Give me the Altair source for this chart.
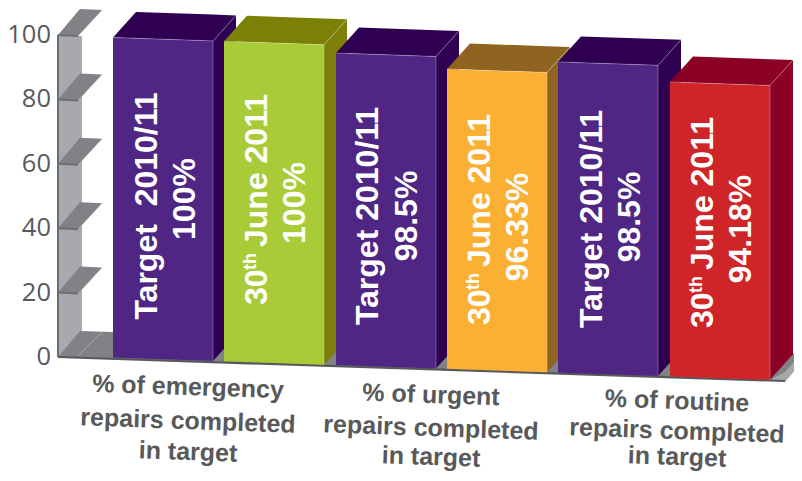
import altair as alt
import pandas as pd

# Heights; the labels carry the printed figures.
bar_values = [100, 100, 97.5, 93.7, 97.1, 92]
bar_left = [113, 224, 336, 447, 558, 670]
front_colors = ["#4F2683", "#A9CB37", "#4F2683", "#FBB034", "#4F2683", "#CF2528"]
dark_colors = ["#2F0051", "#7D8006", "#2F0051", "#8F6420", "#2F0051", "#8C0026"]
tick_values = [0, 20, 40, 60, 80, 100]
line1_text = ["Target\u00a0\u00a02010/11", None, "Target 2010/11", None, "Target 2010/11", None]
line2_text = ["100%", "100%", "98.5%", "96.33%", "98.5%", "94.18%"]
line1_x = [157, 267, 378, 490, 602, 713]
line2_x = [195, 305, 417, 528, 640, 751]
line1_y = [206, 0, 216, 0, 219, 0]
line2_y = [199, 203, 216, 227, 217, 229]
date_base_y = [0, 305, 0, 325, 0, 328]
cat_lines = [
    ["% of emergency", "repairs completed", "in target"],
    ["% of urgent", "repairs completed", "in target"],
    ["% of routine", "repairs completed", "in target"],
]
cat_x = [188, 431, 677]
cat_y = [[387, 421, 452], [395, 428, 457], [401, 431, 457]]

BAR_W, DX, DY, PX = 100, 23, -25.5, 3.2


def ybase(x):
    return 357.5 + 0.034 * (x - 113)


def axis_y(v):
    return 357 - 3.22 * v


rows = []
pid = [0]


def poly(points, color):
    """Turn a convex outline into x / y / y2 rows for an area mark."""
    xs = sorted({p[0] for p in points})
    n = len(points)
    for x in xs:
        ys = []
        for i in range(n):
            (x0, y0), (x1, y1) = points[i], points[(i + 1) % n]
            if min(x0, x1) <= x <= max(x0, x1):
                if x0 == x1:
                    ys += [y0, y1]
                else:
                    ys.append(y0 + (y1 - y0) * (x - x0) / (x1 - x0))
        rows.append(dict(p=pid[0], x=x, y=min(ys), y2=max(ys), c=color))
    pid[0] += 1


# wall, floor, lip
poly([(59, 36), (82, 36), (82, 331), (59, 357)], "#A7A9AC")
poly([(58, 357), (80, 331), (802, 354), (785, 381)], "#808285")
poly([(771, 379.5), (785, 372), (802, 353), (802, 362), (785, 382)], "#A7A9AC")
# shelves
for t in tick_values[1:]:
    y = axis_y(t)
    poly([(58, y), (78, y + 1), (102, y - 25), (80, y - 26)], "#808285")
    poly([(58, y - 1), (78, y), (78, y + 2), (58, y + 1)], "#6D6E71")

lines = []


def add_line(pts, color, width, key=[0]):
    for x, y in pts:
        lines.append(dict(l=key[0], x=x, y=y, c=color, w=width))
    key[0] += 1


add_line([(58, axis_y(100)), (58, axis_y(0))], "#6D6E71", 2)
add_line([(58, 357), (785, 381)], "#58595B", 2.2)
add_line([(78, 356), (102, 332)], "#A7A9AC", 0.8)
for t in tick_values[1:]:
    y = axis_y(t)
    add_line([(78, y + 1), (102, y - 25)], "#A7A9AC", 0.6)

base_rows = list(rows)
rows.clear()

hl = []
for i, (v, xl) in enumerate(zip(bar_values, bar_left)):
    xr = xl + BAR_W
    yl, yr = ybase(xl) - v * PX, ybase(xr) - v * PX
    bl, br = ybase(xl), ybase(xr)
    poly([(xl, yl), (xr, yr), (xr + DX, yr + DY), (xl + DX, yl + DY)], dark_colors[i])
    poly([(xr, yr), (xr + DX, yr + DY), (xr + DX, br + DY), (xr, br)], dark_colors[i])
    poly([(xl, yl), (xr, yr), (xr, br), (xl, bl)], front_colors[i])
    for j, pts in enumerate([[(xl, yl), (xr, yr)], [(xr, yr), (xr, br)], [(xr, yr), (xr + DX, yr + DY)]]):
        for x, y in pts:
            hl.append(dict(l=f"{i}-{j}", x=x, y=y))

X = alt.X("x:Q", scale=alt.Scale(domain=[8, 794], nice=False, zero=False), axis=None)
Y = alt.Y("y:Q", scale=alt.Scale(domain=[473, 8], nice=False, zero=False), axis=None)


def areas(r):
    return alt.Chart(pd.DataFrame(r)).mark_area(interpolate="linear", clip=True).encode(
        X, Y, y2="y2:Q", detail="p:N", color=alt.Color("c:N", scale=None))


line_layer = alt.Chart(pd.DataFrame(lines)).mark_line(clip=True).encode(
    X, Y, detail="l:N", color=alt.Color("c:N", scale=None),
    strokeWidth=alt.StrokeWidth("w:Q", scale=None))
hl_layer = alt.Chart(pd.DataFrame(hl)).mark_line(color="#FFFFFF", opacity=0.28, strokeWidth=1).encode(
    X, Y, detail="l:N")

tick_df = pd.DataFrame({"x": [51] * 6, "y": [axis_y(t) for t in tick_values], "t": [str(t) for t in tick_values]})
ticks = alt.Chart(tick_df).mark_text(font="Open Sans", fontSize=25.5, align="right", baseline="middle",
                                     color="#58595B").encode(X, Y, text="t:N")

cat_rows = []
for lines3, cx, ys in zip(cat_lines, cat_x, cat_y):
    for t, y in zip(lines3, ys):
        cat_rows.append(dict(x=cx, y=y, t=t))
cats = alt.Chart(pd.DataFrame(cat_rows)).mark_text(font="Liberation Sans", fontWeight="bold", fontSize=25,
                                                   angle=2, baseline="middle", align="center",
                                                   color="#58595B").encode(X, Y, text="t:N")

in_rows = []
for i in range(6):
    in_rows.append(dict(x=line2_x[i], y=line2_y[i], t=line2_text[i]))
    if line1_text[i]:
        in_rows.append(dict(x=line1_x[i], y=line1_y[i], t=line1_text[i]))
in_text = alt.Chart(pd.DataFrame(in_rows)).mark_text(font="Liberation Sans", fontWeight="bold", fontSize=32,
                                                     angle=270, align="center", baseline="alphabetic",
                                                     color="#FFFFFF").encode(X, Y, text="t:N")

d30, dth, djune = [], [], []
for i in range(6):
    if not line1_text[i]:
        b = date_base_y[i]
        d30.append(dict(x=line1_x[i], y=b, t="30"))
        dth.append(dict(x=line1_x[i] - 11, y=b - 35, t="th"))
        djune.append(dict(x=line1_x[i], y=b - 58, t="June 2011"))
white_left = dict(font="Liberation Sans", fontWeight="bold", angle=270, align="left", baseline="alphabetic",
                  color="#FFFFFF")
t30 = alt.Chart(pd.DataFrame(d30)).mark_text(fontSize=32, **white_left).encode(X, Y, text="t:N")
tth = alt.Chart(pd.DataFrame(dth)).mark_text(fontSize=18, **white_left).encode(X, Y, text="t:N")
tjune = alt.Chart(pd.DataFrame(djune)).mark_text(fontSize=32, **white_left).encode(X, Y, text="t:N")

chart = alt.layer(
    areas(base_rows), line_layer, areas(rows), hl_layer, ticks, cats, in_text, t30, tth, tjune
).properties(width=786, height=465, padding=0, autosize=alt.AutoSizeParams(type="none"), background="#FFFFFF"
).configure_view(stroke=None)

chart.save("out.html", embed_options={"renderer": "svg", "actions": False})
